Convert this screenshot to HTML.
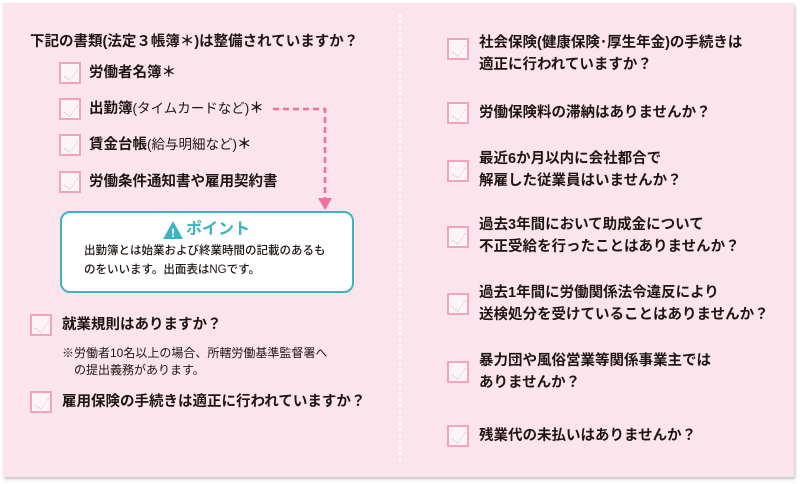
<!DOCTYPE html>
<html><head><meta charset="utf-8"><style>
*{margin:0;padding:0;box-sizing:border-box}
body{width:800px;height:484px;background:#fff;position:relative;overflow:hidden;font-family:"Liberation Sans","Noto Sans CJK JP",sans-serif;color:#1e1613}
#panel{position:absolute;left:3px;top:3px;width:791px;height:474px;background:#fce4ed;box-shadow:1px 2px 3px rgba(0,0,0,.25)}
.t{position:absolute;font-weight:bold;font-size:14.5px;line-height:22px;white-space:nowrap}
.cb{position:absolute;width:22px;height:22px;border:2px solid #f4a3bf;background:#fdf4f7}
.cb::after{content:"";position:absolute;left:4px;top:2px;width:11px;height:13px;border-right:1px dotted #bbb;border-bottom:1px dotted #bbb;transform:rotate(35deg) scaleX(.6)}
.n{position:absolute;font-size:12px;line-height:17px;white-space:nowrap}
.p{font-weight:normal;font-size:13.5px}
</style></head><body>
<div id="panel"></div>
<svg style="position:absolute;left:0;top:0" width="800" height="484">
<line x1="400" y1="15" x2="400" y2="465" stroke="#fff" stroke-width="2.5" stroke-dasharray="1,5" stroke-linecap="round"/>
<path d="M273 109 H325 V198" fill="none" stroke="#f06f9c" stroke-width="2.5" stroke-dasharray="6,4"/>
<polygon points="318,198 332,198 325,210" fill="#f06f9c"/>
</svg>
<div class="t" style="left:30px;top:31px">下記の書類(法定３帳簿＊)は整備されていますか？</div>
<div class="cb" style="left:59px;top:62px"></div><div class="t" style="left:89px;top:62px">労働者名簿＊</div>
<div class="cb" style="left:59px;top:98px"></div><div class="t" style="left:89px;top:98px">出勤簿<span class="p">(タイムカードなど)</span>＊</div>
<div class="cb" style="left:59px;top:134px"></div><div class="t" style="left:89px;top:134px">賃金台帳<span class="p">(給与明細など)</span>＊</div>
<div class="cb" style="left:59px;top:171px"></div><div class="t" style="left:89px;top:171px">労働条件通知書や雇用契約書</div>
<div style="position:absolute;left:60px;top:211px;width:294px;height:82px;border:2px solid #3bb3c3;border-radius:10px;background:#fff"></div>
<svg style="position:absolute;left:162px;top:220px" width="22" height="20"><polygon points="11,1 21,19 1,19" fill="#3bb3c3"/><text x="11" y="17" font-size="12" font-weight="bold" fill="#fff" text-anchor="middle" font-family="Liberation Sans">!</text></svg>
<div class="t" style="left:186px;top:219px;color:#3bb3c3;font-size:16px">ポイント</div>
<div class="n" style="left:84px;top:242px;font-size:11.5px;line-height:19px;font-weight:500">出勤簿とは始業および終業時間の記載のあるも<br>のをいいます。出面表はNGです。</div>
<div class="cb" style="left:30px;top:314px"></div><div class="t" style="left:62px;top:314px">就業規則はありますか？</div>
<div class="n" style="left:62px;top:345px">※労働者10名以上の場合、所轄労働基準監督署へ<br>　の提出義務があります。</div>
<div class="cb" style="left:30px;top:391px"></div><div class="t" style="left:62px;top:391px">雇用保険の手続きは適正に行われていますか？</div>
<div class="cb" style="left:447px;top:38px"></div><div class="t" style="left:479px;top:32px">社会保険(健康保険･厚生年金)の手続きは<br>適正に行われていますか？</div>
<div class="cb" style="left:447px;top:102px"></div><div class="t" style="left:479px;top:102px">労働保険料の滞納はありませんか？</div>
<div class="cb" style="left:447px;top:160px"></div><div class="t" style="left:479px;top:148px">最近6か月以内に会社都合で<br>解雇した従業員はいませんか？</div>
<div class="cb" style="left:447px;top:226px"></div><div class="t" style="left:479px;top:214px">過去3年間において助成金について<br>不正受給を行ったことはありませんか？</div>
<div class="cb" style="left:447px;top:293px"></div><div class="t" style="left:479px;top:282px">過去1年間に労働関係法令違反により<br>送検処分を受けていることはありませんか？</div>
<div class="cb" style="left:447px;top:361px"></div><div class="t" style="left:479px;top:350px">暴力団や風俗営業等関係事業主では<br>ありませんか？</div>
<div class="cb" style="left:447px;top:425px"></div><div class="t" style="left:479px;top:425px">残業代の未払いはありませんか？</div>
</body></html>
